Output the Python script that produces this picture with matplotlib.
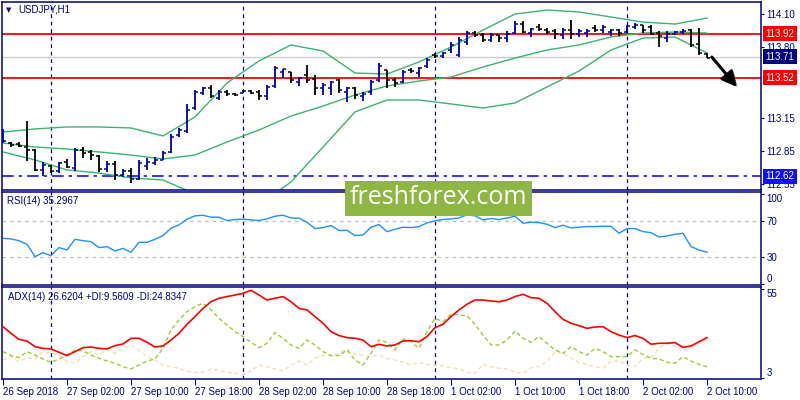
import numpy as np
import matplotlib
matplotlib.use("Agg")
import matplotlib.pyplot as plt
from matplotlib.patches import Rectangle
from matplotlib import patheffects

plt.rcParams['font.family'] = ['Liberation Sans', 'DejaVu Sans']

# =========================
# Datos (USDJPY H1, velas de 26 Sep 18:00 a 2 Oct 10:00)
# =========================
open_ = [112.933, 112.924, 112.915, 112.887, 112.860, 112.678, 112.714, 112.668, 112.751, 112.696,
         112.860, 112.842, 112.805, 112.687, 112.732, 112.632, 112.668, 112.596, 112.714, 112.741,
         112.769, 112.842, 112.997, 113.033, 113.243, 113.380, 113.425, 113.334, 113.389, 113.371,
         113.380, 113.398, 113.389, 113.352, 113.444, 113.571, 113.571, 113.480, 113.544, 113.508,
         113.425, 113.425, 113.498, 113.389, 113.425, 113.352, 113.389, 113.498, 113.590, 113.498,
         113.480, 113.590, 113.562, 113.626, 113.726, 113.717, 113.772, 113.726, 113.845, 113.927,
         113.909, 113.863, 113.909, 113.881, 113.927, 114.009, 113.927, 113.982, 113.954, 113.945,
         113.909, 113.954, 113.918, 113.927, 113.973, 113.954, 113.936, 113.954, 113.936, 113.982,
         114.000, 113.982, 113.927, 113.881, 113.918, 113.936, 113.954, 113.827, 113.736]
high = [113.052, 112.933, 112.933, 113.124, 112.869, 112.751, 112.723, 112.751, 112.778, 112.878,
        112.887, 112.860, 112.814, 112.760, 112.760, 112.687, 112.696, 112.769, 112.787, 112.796,
        112.851, 113.006, 113.061, 113.280, 113.407, 113.435, 113.453, 113.407, 113.407, 113.380,
        113.407, 113.407, 113.407, 113.453, 113.626, 113.599, 113.571, 113.526, 113.635, 113.544,
        113.471, 113.489, 113.508, 113.435, 113.435, 113.389, 113.498, 113.653, 113.590, 113.517,
        113.590, 113.608, 113.617, 113.699, 113.745, 113.754, 113.845, 113.891, 113.945, 113.945,
        113.927, 113.927, 113.909, 113.945, 114.036, 114.036, 113.973, 114.009, 113.973, 113.964,
        113.973, 114.046, 113.964, 113.964, 114.000, 114.000, 113.964, 113.964, 114.000, 114.018,
        114.000, 114.000, 113.945, 113.945, 113.945, 113.964, 113.964, 113.973, 113.745]
low = [112.924, 112.887, 112.887, 112.760, 112.668, 112.623, 112.650, 112.650, 112.696, 112.668,
       112.787, 112.769, 112.659, 112.659, 112.586, 112.614, 112.559, 112.586, 112.678, 112.723,
       112.769, 112.833, 112.979, 113.015, 113.225, 113.362, 113.334, 113.316, 113.352, 113.352,
       113.380, 113.371, 113.316, 113.316, 113.425, 113.517, 113.471, 113.444, 113.471, 113.362,
       113.362, 113.362, 113.380, 113.298, 113.325, 113.307, 113.362, 113.480, 113.425, 113.435,
       113.471, 113.562, 113.526, 113.608, 113.699, 113.699, 113.745, 113.708, 113.818, 113.891,
       113.845, 113.845, 113.845, 113.845, 113.918, 113.927, 113.891, 113.945, 113.918, 113.872,
       113.872, 113.872, 113.891, 113.891, 113.936, 113.927, 113.900, 113.900, 113.927, 113.964,
       113.927, 113.909, 113.799, 113.845, 113.909, 113.918, 113.799, 113.726, 113.699]
close = [112.942, 112.906, 112.896, 112.860, 112.678, 112.723, 112.668, 112.741, 112.705, 112.860,
         112.833, 112.814, 112.687, 112.732, 112.632, 112.668, 112.596, 112.741, 112.751, 112.769,
         112.833, 112.979, 113.042, 113.225, 113.389, 113.425, 113.352, 113.389, 113.371, 113.362,
         113.398, 113.380, 113.352, 113.435, 113.608, 113.599, 113.498, 113.517, 113.498, 113.425,
         113.453, 113.480, 113.407, 113.425, 113.362, 113.371, 113.480, 113.626, 113.498, 113.471,
         113.571, 113.580, 113.608, 113.681, 113.717, 113.745, 113.818, 113.863, 113.927, 113.909,
         113.863, 113.909, 113.881, 113.918, 114.009, 113.936, 113.964, 113.964, 113.936, 113.918,
         113.954, 113.918, 113.945, 113.945, 113.954, 113.982, 113.954, 113.927, 113.991, 114.000,
         113.954, 113.918, 113.900, 113.918, 113.936, 113.945, 113.818, 113.745, 113.699]

# Bollinger (leidas cada 4 velas)
bb_bar = [0, 4, 8, 12, 16, 20, 24, 28, 32, 36, 40, 44, 48, 52, 56, 60, 64, 68, 72, 76, 80, 84, 88]
bb_upper = [113.024, 113.052, 113.070, 113.070, 113.061, 112.988, 113.161, 113.471, 113.672, 113.818,
            113.763, 113.562, 113.553, 113.663, 113.799, 113.954, 114.100, 114.137, 114.119, 114.073,
            114.027, 114.009, 114.064]
bb_mid = [112.924, 112.887, 112.869, 112.842, 112.814, 112.778, 112.814, 112.933, 113.042, 113.170,
          113.261, 113.362, 113.444, 113.489, 113.526, 113.617, 113.699, 113.772, 113.818, 113.891,
          113.927, 113.936, 113.927]
bb_lower = [112.842, 112.769, 112.678, 112.650, 112.605, 112.586, 112.460, 112.380, 112.360, 112.568,
            112.887, 113.207, 113.316, 113.316, 113.280, 113.243, 113.289, 113.435, 113.580, 113.772,
            113.881, 113.891, 113.745]

rsi = [50.7, 50.0, 48.1, 44.1, 30.4, 34.8, 31.5, 40.4, 37.8, 49.6,
       48.1, 47.0, 40.4, 41.5, 36.7, 39.6, 35.2, 46.3, 46.3, 49.6,
       53.7, 61.9, 65.6, 71.9, 75.6, 76.3, 74.1, 74.1, 70.4, 71.5,
       71.9, 71.1, 70.4, 72.2, 75.2, 76.3, 73.3, 73.0, 68.5, 61.5,
       62.6, 64.8, 59.3, 59.6, 53.7, 54.4, 63.0, 65.9, 58.1, 60.7,
       63.0, 62.6, 63.7, 67.8, 70.0, 71.5, 72.2, 73.3, 76.7, 75.6,
       71.1, 72.6, 71.5, 73.3, 75.2, 67.4, 68.5, 68.1, 66.3, 62.6,
       65.2, 62.2, 63.0, 63.7, 63.7, 64.1, 64.1, 56.3, 61.5, 61.5,
       58.1, 57.0, 52.2, 53.3, 55.2, 56.3, 41.5, 37.8, 35.3]

adx = [33.0, 29.1, 25.6, 24.6, 21.3, 20.3, 20.0, 18.0, 16.1, 18.4,
       20.7, 21.1, 20.3, 20.0, 21.9, 22.9, 26.2, 26.2, 23.9, 21.1,
       21.7, 25.2, 29.1, 34.4, 38.9, 43.7, 47.6, 49.6, 50.6, 51.5,
       52.5, 54.3, 51.5, 48.6, 49.6, 50.6, 47.6, 43.7, 42.8, 38.9,
       35.0, 30.1, 27.8, 26.6, 26.2, 25.2, 21.3, 22.7, 21.7, 22.3,
       24.6, 24.8, 24.2, 27.2, 32.4, 34.4, 38.9, 42.8, 46.1, 48.6,
       48.6, 48.0, 47.6, 48.6, 50.6, 51.9, 50.0, 49.6, 46.7, 41.8,
       37.3, 35.0, 33.6, 32.0, 32.8, 33.0, 30.1, 28.1, 26.6, 27.8,
       26.2, 22.7, 23.3, 23.3, 23.7, 20.9, 21.7, 24.2, 26.6]
plus_di = [18.4, 16.1, 14.9, 18.4, 16.4, 14.1, 12.2, 14.1, 16.4, 19.4,
           18.8, 16.4, 14.5, 12.9, 11.6, 9.6, 8.3, 10.6, 12.9, 14.1,
           20.3, 31.1, 36.9, 41.8, 44.7, 46.7, 42.8, 37.9, 34.0, 30.1,
           27.2, 23.9, 20.7, 23.3, 29.5, 26.2, 22.3, 20.3, 25.2, 22.3,
           18.4, 16.1, 16.1, 19.4, 13.5, 10.6, 17.4, 25.2, 23.9, 19.4,
           25.8, 24.2, 20.3, 30.1, 37.9, 35.9, 40.2, 39.8, 39.4, 34.4,
           28.1, 22.3, 22.3, 25.2, 30.5, 26.2, 23.9, 27.2, 23.3, 19.4,
           17.4, 21.3, 18.4, 16.4, 20.3, 18.4, 15.5, 15.5, 15.5, 19.4,
           16.8, 14.5, 14.1, 12.2, 11.6, 15.5, 12.9, 11.0, 9.6]
minus_di = [13.5, 15.5, 12.6, 14.9, 14.1, 18.4, 17.4, 16.4, 12.6, 11.6,
            15.5, 18.4, 16.4, 19.4, 17.4, 20.3, 22.3, 19.4, 15.5, 13.5,
            10.6, 9.6, 8.7, 7.1, 6.3, 6.3, 8.3, 7.5, 6.3, 5.7,
            4.8, 7.1, 10.6, 9.6, 8.3, 7.1, 10.6, 12.9, 10.6, 14.5,
            16.4, 16.1, 17.4, 20.0, 16.8, 16.4, 15.5, 16.4, 14.5, 13.5,
            12.2, 10.6, 12.2, 11.0, 10.2, 10.2, 9.0, 8.3, 6.3, 5.7,
            11.0, 9.6, 8.7, 8.3, 6.3, 5.7, 9.0, 9.6, 12.6, 18.4,
            17.4, 14.5, 12.2, 10.6, 9.6, 8.7, 12.9, 12.9, 10.6, 9.6,
            14.5, 14.9, 20.3, 23.3, 21.3, 18.4, 21.3, 23.3, 25.2]

day_start_bars = [6, 30, 54, 78]
time_tick_bars = [0, 8, 16, 24, 32, 40, 48, 56, 64, 72, 80, 88]
time_labels = ["26 Sep 2018", "27 Sep 02:00", "27 Sep 10:00", "27 Sep 18:00",
               "28 Sep 02:00", "28 Sep 10:00", "28 Sep 18:00", "1 Oct 02:00",
               "1 Oct 10:00", "1 Oct 18:00", "2 Oct 02:00", "2 Oct 10:00"]

price_ticks = [114.10, 113.80, 113.15, 112.85, 112.55]
level_prices = [113.92, 113.71, 113.52, 112.62]
level_colors = ["#ff0000", "#000080", "#ff0000", "#1010ff"]

NAVY = "#000080"
UP = "#000098"
W, H = 800, 400

fig = plt.figure(figsize=(8, 4), dpi=100)
fig.patch.set_facecolor("white")


def px_axes(left, top, right, bottom):
    return fig.add_axes([left / W, 1 - bottom / H, (right - left) / W, (bottom - top) / H])


ax1 = px_axes(2, 2, 761, 190)
ax2 = px_axes(2, 192, 761, 285)
ax3 = px_axes(2, 287, 761, 379)

for ax in (ax1, ax2, ax3):
    ax.set_xlim(-0.125, 94.75)
    for s in ax.spines.values():
        s.set_color(NAVY)
        s.set_linewidth(1.1)
    ax.yaxis.tick_right()
    ax.tick_params(axis="y", direction="out", length=2.5, width=0.8, color=NAVY,
                   labelcolor=NAVY, labelsize=7, pad=1.5)
    ax.tick_params(axis="x", bottom=False, labelbottom=False)
    for d in day_start_bars:
        ax.axvline(d, color=NAVY, lw=0.9, ls=(0, (3, 3)), zorder=1)

# =========================
# Precio
# =========================
idx = np.arange(len(close))
colors = np.where(np.array(close) >= np.array(open_), UP, "black")

ax1.axhline(113.71, color="#cccccc", lw=1, zorder=0.5)
ax1.axhline(113.92, color="#ff0000", lw=1.3, zorder=1.5)
ax1.axhline(113.52, color="#ff0000", lw=1.3, zorder=1.5)
ax1.axhline(112.62, color="#1010ff", lw=1.2, ls=(0, (7, 3, 2, 3)), zorder=1.5)

for band in (bb_upper, bb_mid, bb_lower):
    ax1.plot(bb_bar, band, color="#3cb371", lw=1, zorder=2)

ax1.vlines(idx, low, high, colors=colors, lw=1.3, zorder=3)
ax1.hlines(open_, idx - 0.4, idx, colors=colors, lw=1.1, zorder=3)
ax1.hlines(close, idx, idx + 0.4, colors=colors, lw=1.1, zorder=3)

ax1.set_ylim(112.495, 114.21)
ax1.set_yticks(price_ticks)
ax1.set_yticklabels([f"{p:.2f}" for p in price_ticks])

for p, c in zip(level_prices, level_colors):
    ax1.text(1.0059, p, f"{p:.2f}", transform=ax1.get_yaxis_transform(), ha="left", va="center",
             color="white", fontsize=7, clip_on=False,
             bbox=dict(boxstyle="square,pad=0.25", fc=c, ec="none"))

arr = ax1.annotate("", xy=(91.75, 113.435), xytext=(88.6, 113.708),
                   arrowprops=dict(arrowstyle="-|>,head_length=0.9,head_width=0.45",
                                   color="black", lw=2.2, shrinkA=0, shrinkB=0))
arr.arrow_patch.set_path_effects([
    patheffects.SimplePatchShadow(offset=(2, -2), shadow_rgbFace="0.35", alpha=0.5),
    patheffects.Normal()])

# =========================
# RSI
# =========================
ax2.axhline(70, color="#c0c0c0", lw=0.9, ls=(0, (3, 3)))
ax2.axhline(30, color="#c0c0c0", lw=0.9, ls=(0, (3, 3)))
ax2.plot(idx, rsi, color="#1e90ff", lw=1, zorder=3)
ax2.set_ylim(-1, 102)
ax2.set_yticks([0, 30, 70, 100])
ax2.set_yticklabels(["0", "30", "70", "100"])
ax2.get_yticklabels()[0].set_va("bottom")
ax2.get_yticklabels()[3].set_va("top")

# =========================
# ADX
# =========================
ax3.plot(idx, minus_di, color="#f5deb3", lw=1, ls=(0, (3, 2)), zorder=2)
ax3.plot(idx, plus_di, color="#9acd32", lw=1, ls=(0, (3, 2)), zorder=2)
ax3.plot(idx, adx, color="#ff0000", lw=1.2, zorder=3)
ax3.set_ylim(2.4, 56.2)
ax3.set_yticks([3, 55])
ax3.set_yticklabels(["3", "55"])
ax3.get_yticklabels()[0].set_va("bottom")
ax3.get_yticklabels()[1].set_va("top")

ax3.set_xticks(time_tick_bars)
ax3.set_xticklabels(time_labels)
ax3.tick_params(axis="x", bottom=True, labelbottom=True, direction="out", length=4,
                width=0.8, color=NAVY, labelcolor=NAVY, labelsize=7, pad=2)
for lab in ax3.get_xticklabels():
    lab.set_ha("left")

# =========================
# Textos y marca de agua
# =========================
fig.text(9 / W, 1 - 10 / H, "\u25bc", ha="center", va="center", color=NAVY, fontsize=5,
         family="DejaVu Sans")
fig.text(18 / W, 1 - 10 / H, "USDJPY,H1", ha="left", va="center", color=NAVY, fontsize=7)
fig.text(7 / W, 1 - 201 / H, "RSI(14) 35.2967", ha="left", va="center", color=NAVY, fontsize=7)
fig.text(8 / W, 1 - 297 / H, "ADX(14) 26.6204 +DI:9.5609 -DI:24.8347", ha="left", va="center",
         color=NAVY, fontsize=7)

fig.add_artist(Rectangle((345 / W, 1 - 216 / H), 187 / W, 35 / H, transform=fig.transFigure,
                         facecolor="#8db645", edgecolor="none", zorder=10))
fig.text(438 / W, 1 - 198 / H, "freshforex.com", ha="center", va="center", color="white",
         fontsize=18, family="Open Sans", zorder=11)

plt.savefig("out.png", dpi=100)
